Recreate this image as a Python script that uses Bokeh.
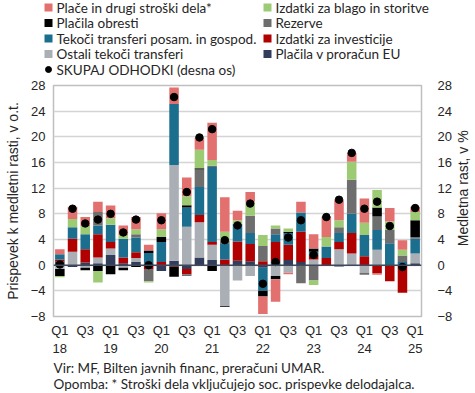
import numpy as np
from bokeh.plotting import figure
from bokeh.layouts import column, row
from bokeh.models import (ColumnDataSource, LinearAxis, FixedTicker, Span, Range1d)
from bokeh.core.properties import value
from bokeh.embed import file_html
from bokeh.resources import INLINE

# ---------------- data ----------------
quarters = ["Q1 18", "Q2 18", "Q3 18", "Q4 18", "Q1 19", "Q2 19", "Q3 19", "Q4 19",
            "Q1 20", "Q2 20", "Q3 20", "Q4 20", "Q1 21", "Q2 21", "Q3 21", "Q4 21",
            "Q1 22", "Q2 22", "Q3 22", "Q4 22", "Q1 23", "Q2 23", "Q3 23", "Q4 23",
            "Q1 24", "Q2 24", "Q3 24", "Q4 24", "Q1 25"]
tick_positions = [0, 2, 4, 6, 8, 10, 12, 14, 16, 18, 20, 22, 24, 26, 28]
tick_labels = ["Q1\n18", "Q3", "Q1\n19", "Q3", "Q1\n20", "Q3", "Q1\n21", "Q3",
               "Q1\n22", "Q3", "Q1\n23", "Q3", "Q1\n24", "Q3", "Q1\n25"]
y_ticks = [-8, -4, 0, 4, 8, 12, 16, 20, 24, 28]

place_eu = [0.6, -0.3, 0.4, 0.3, 1.6, 0.3, 0.5, 0.3, -0.9, 0.7, -0.6, 1.2, 0.8, 0.0, 0.7,
            0.6, -0.4, 0.6, 0.8, 0.5, 0.0, 0.0, -0.2, 0.0, 0.0, 0.0, 0.0, 0.0, 0.3]
ostali_transferi = [-0.6, 2.1, -0.4, 0.9, 1.0, -0.4, 0.6, 0.0, 0.0, 14.9, 6.0, 5.5, 2.4, -6.4,
                    -2.4, -1.7, 0.0, -1.7, -1.2, 0.0, 0.9, 0.0, 2.5, 1.8, -1.2, 2.4, 0.0, 0.0, 1.5]
investicije = [0.3, 2.0, 2.1, 3.6, 1.0, 0.9, 0.9, -0.6, 0.5, -0.2, -0.8, 1.1, 0.4, 0.9, 3.0,
               2.7, 0.6, 3.0, 2.4, 4.7, 0.7, 1.1, 1.1, 3.2, 1.4, -1.3, -2.5, -4.3, 0.0]
transferi_posam = [0.8, 1.8, 2.3, 1.4, 2.7, 2.9, 2.3, 1.6, 3.1, 9.5, 3.0, 4.4, 11.7, 2.4, 2.7,
                   1.7, -3.6, 1.2, 1.8, 3.0, 0.5, 1.8, 1.4, 3.0, 3.3, 3.1, 3.4, 0.5, 2.3]
rezerve = [0.0, 0.0, 0.0, 2.1, 0.0, 0.0, 0.5, -1.9, 0.0, 0.0, -0.3, 2.7, 0.2, 0.5, 0.0,
           2.7, 2.4, 0.9, 0.0, -2.8, -2.4, 0.0, 0.9, 5.3, -0.3, 2.1, 2.1, 1.0, 0.3]
obresti = [-1.1, 0.0, -0.4, -0.9, -1.4, -0.4, -0.3, 0.4, 0.8, -1.6, 0.35, 0.2, -0.9, -0.1, 0.0,
           0.0, -0.9, -0.5, 0.2, 0.0, 0.5, 0.0, 0.0, 0.0, 0.0, 1.4, 0.0, 0.0, 2.6]
blago_storitve = [-0.2, 1.3, 1.3, -1.8, 1.0, 0.6, 0.8, -0.2, 1.2, 0.0, 1.4, 2.9, 0.9, 1.4, 0.6,
                  2.2, 1.7, 0.5, 0.5, 0.0, -0.7, 1.5, 1.1, 2.8, 1.9, 2.7, 1.3, 0.9, 1.3]
place = [0.8, 1.9, 1.4, 1.6, 2.0, 1.5, 1.9, 0.9, 2.5, 2.6, 2.9, 1.8, 5.8, 5.4, 1.5,
         1.5, -2.7, -3.5, -0.2, 1.7, 2.2, 3.2, 3.2, 1.4, 3.8, -0.2, 2.1, 1.5, 0.8]
skupaj = [0.1, 8.8, 6.5, 7.1, 8.0, 5.1, 7.1, 0.0, 7.0, 26.2, 11.4, 19.9, 21.2, 3.9, 6.2,
          9.6, -2.9, 0.5, 4.3, 7.0, 1.6, 7.5, 10.2, 17.5, 8.8, 9.9, 6.1, -0.3, 8.9]

names = {
    "place": "Plače in drugi stroški dela*",
    "blago": "Izdatki za blago in storitve",
    "obresti": "Plačila obresti",
    "rezerve": "Rezerve",
    "transferi": "Tekoči transferi posam. in gospod.",
    "invest": "Izdatki za investicije",
    "ostali": "Ostali tekoči transferi",
    "eu": "Plačila v proračun EU",
    "skupaj": "SKUPAJ ODHODKI (desna os)",
}
left_axis_title = "Prispevek k medletni rasti, v o.t."
right_axis_title = "Medletna rast, v %"
notes = ["Vir: MF, Bilten javnih financ, preračuni UMAR.",
         "Opomba: * Stroški dela vključujejo soc. prispevke delodajalca."]
colors = {
    "place": "#E2706E", "blago": "#9DCB74", "obresti": "#000000", "rezerve": "#6E6E6E",
    "transferi": "#1B6E8E", "invest": "#B00000", "ostali": "#A9AFB5", "eu": "#323D5B",
}
# stacking order, bottom first
stack = [("eu", place_eu), ("ostali", ostali_transferi), ("invest", investicije),
         ("transferi", transferi_posam), ("rezerve", rezerve), ("obresti", obresti),
         ("blago", blago_storitve), ("place", place)]
legend_cols = [["place", "obresti", "transferi", "ostali", "skupaj"],
               ["blago", "rezerve", "invest", "eu"]]

FONT_TXT = "Lato"
FONT_AX = "Liberation Sans"
TXT_COL = "#262626"
W = 475
H_LEG, H_MAIN, H_NOTES = 77, 281, 35
W_RSTRIP = 20


def strip(width, height):
    f = figure(width=width, height=height, output_backend="svg", toolbar_location=None,
               x_range=Range1d(0, width), y_range=Range1d(height, 0),
               x_axis_type=None, y_axis_type=None,
               min_border_left=0, min_border_right=0, min_border_top=0, min_border_bottom=0)
    f.outline_line_color = None
    f.background_fill_color = "white"
    f.border_fill_color = "white"
    return f


# ---------------- legend strip ----------------
pl = strip(W, H_LEG)
col_x = [48, 267]
row_y0, row_dy = 7, 15.5
sw_x, sw_y, sw_c, tx_x, tx_y, tx_t = [], [], [], [], [], []
dot_x, dot_y = [], []
for ci, keys in enumerate(legend_cols):
    for ri, k in enumerate(keys):
        yy = row_y0 + ri * row_dy
        if k == "skupaj":
            dot_x.append(col_x[ci]); dot_y.append(yy)
        else:
            sw_x.append(col_x[ci]); sw_y.append(yy); sw_c.append(colors[k])
        tx_x.append(col_x[ci] + 8); tx_y.append(yy); tx_t.append(names[k])
pl.rect(x=sw_x, y=sw_y, width=8, height=8, width_units="screen", height_units="screen",
        fill_color=sw_c, line_color=None)
pl.scatter(x=dot_x, y=dot_y, size=6, marker="circle", fill_color="black", line_color="black")
pl.text(x=tx_x, y=tx_y, text=tx_t, text_font=value(FONT_TXT), text_font_size=value("13.5px"),
        text_color=TXT_COL, text_baseline="middle", text_align="left")

# ---------------- main chart ----------------
p = figure(width=W - W_RSTRIP, height=H_MAIN, output_backend="svg", toolbar_location=None,
           x_range=Range1d(-0.5, 28.5), y_range=Range1d(-8, 28),
           min_border_left=53, min_border_right=W - W_RSTRIP - 422,
           min_border_top=8, min_border_bottom=39)
p.background_fill_color = "white"
p.border_fill_color = "white"
p.outline_line_color = "#BFBFBF"
p.outline_line_width = 1.5

x = np.arange(len(quarters))
pos_base = np.zeros(len(quarters))
neg_base = np.zeros(len(quarters))
for key, vals in stack:
    v = np.array(vals, dtype=float)
    pos = np.clip(v, 0, None)
    neg = np.clip(v, None, 0)
    bottom = np.where(v >= 0, pos_base, neg_base + neg)
    top = np.where(v >= 0, pos_base + pos, neg_base)
    pos_base = pos_base + pos
    neg_base = neg_base + neg
    src = ColumnDataSource(dict(x=x, bottom=bottom, top=top))
    p.vbar(x="x", bottom="bottom", top="top", width=0.75, source=src,
           fill_color=colors[key], line_color=None)

p.add_layout(Span(location=0, dimension="width", line_color="#3E4A5C", line_width=1.5))
p.scatter(x=x, y=skupaj, size=7.5, marker="circle", fill_color="black", line_color="black")

p.xgrid.grid_line_color = None
p.ygrid.grid_line_color = "#D4D4D4"
p.ygrid.grid_line_width = 1.5
p.ygrid.ticker = FixedTicker(ticks=y_ticks)


def style_axis(ax):
    ax.axis_line_color = None
    ax.major_tick_line_color = None
    ax.minor_tick_line_color = None
    ax.major_tick_out = 0
    ax.major_tick_in = 0
    ax.major_label_text_font = FONT_AX
    ax.major_label_text_font_size = "13px"
    ax.major_label_text_color = TXT_COL
    ax.axis_label_text_font = FONT_AX
    ax.axis_label_text_font_size = "14px"
    ax.axis_label_text_font_style = "normal"
    ax.axis_label_text_color = TXT_COL


yl = p.yaxis[0]
yl.ticker = FixedTicker(ticks=y_ticks)
yl.axis_label = left_axis_title
style_axis(yl)
yl.major_label_standoff = 8
yl.axis_label_standoff = 7

yr = LinearAxis(ticker=FixedTicker(ticks=y_ticks))
style_axis(yr)
yr.major_label_standoff = 16
p.add_layout(yr, "right")

xa = p.xaxis[0]
xa.ticker = FixedTicker(ticks=tick_positions)
xa.major_label_overrides = {t: l for t, l in zip(tick_positions, tick_labels)}
style_axis(xa)
xa.major_label_standoff = 6

# ---------------- right axis title strip ----------------
pr = strip(W_RSTRIP, H_MAIN)
frame_mid = 8 + (H_MAIN - 8 - 39) / 2
pr.text(x=[462 - (W - W_RSTRIP)], y=[frame_mid], text=[right_axis_title], angle=np.pi / 2,
        text_font=value(FONT_AX), text_font_size=value("14px"), text_color=TXT_COL,
        text_align="center", text_baseline="middle")

# ---------------- notes strip ----------------
pn = strip(W, H_NOTES)
pn.text(x=[53, 53], y=[9, 25], text=notes, text_font=value(FONT_TXT),
        text_font_size=value("13.5px"), text_color=TXT_COL, text_baseline="middle",
        text_align="left")

layout = column(pl, row(p, pr, spacing=0), pn, spacing=0)
open("out.html", "w").write(file_html(layout, INLINE))
